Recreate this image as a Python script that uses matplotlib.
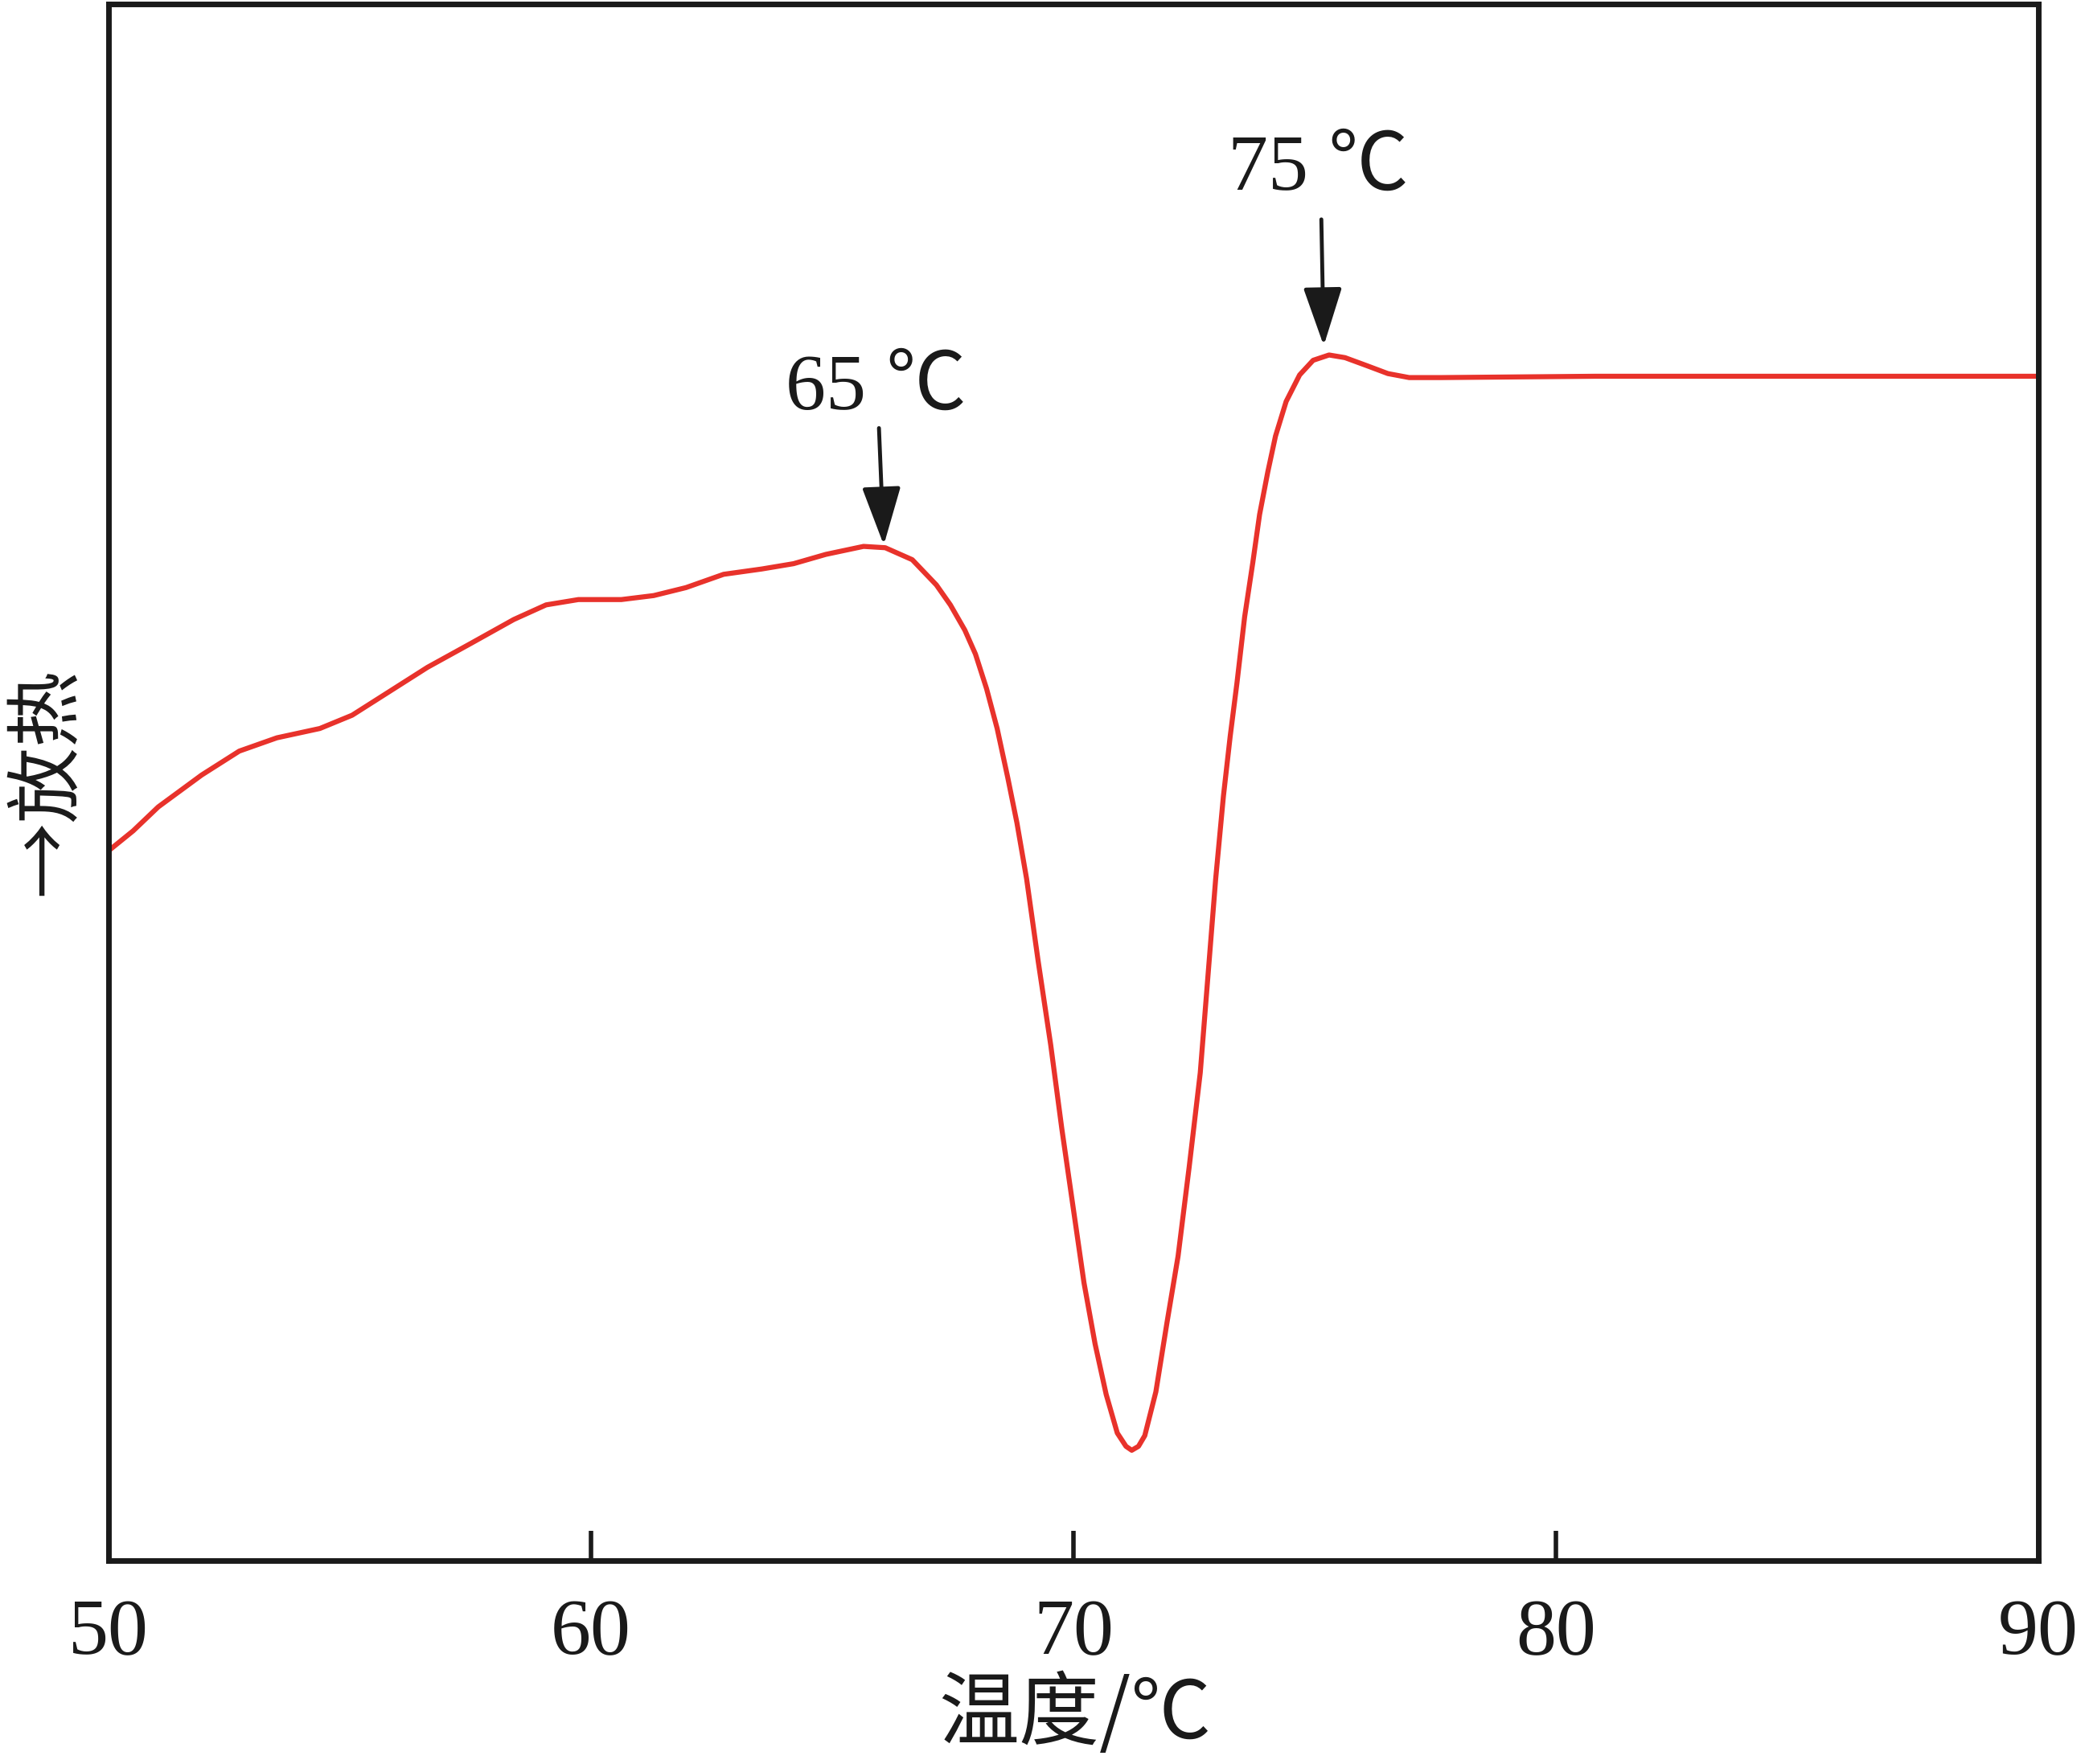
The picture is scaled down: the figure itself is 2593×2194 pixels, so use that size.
import numpy as np
import matplotlib
matplotlib.use("Agg")
import matplotlib.pyplot as plt

# DSC curve (temperature in C, heat flow in arbitrary units)
temp = [50.00, 50.51, 51.03, 51.93, 52.71, 53.49, 54.38, 55.05, 55.83, 56.61,
        57.51, 58.40, 59.07, 59.74, 60.63, 61.30, 61.97, 62.75, 63.54, 64.20,
        64.87, 65.65, 66.10, 66.66, 67.16, 67.45, 67.75, 67.97, 68.20, 68.42,
        68.64, 68.83, 69.03, 69.27, 69.53, 69.76, 69.99, 70.22, 70.45, 70.68,
        70.91, 71.09, 71.21, 71.35, 71.48, 71.71, 71.94, 72.17, 72.40, 72.63,
        72.79, 72.95, 73.11, 73.25, 73.39, 73.55, 73.72, 73.86, 74.03, 74.19,
        74.41, 74.69, 74.97, 75.30, 75.63, 76.08, 76.52, 76.96, 77.62, 80.82,
        90.00]
heat = [5.34, 5.49, 5.67, 5.91, 6.09, 6.19, 6.26, 6.36, 6.54, 6.72,
        6.90, 7.08, 7.19, 7.23, 7.23, 7.26, 7.32, 7.42, 7.46, 7.50,
        7.57, 7.63, 7.62, 7.53, 7.34, 7.19, 7.00, 6.82, 6.56, 6.26,
        5.89, 5.55, 5.13, 4.51, 3.88, 3.25, 2.67, 2.09, 1.63, 1.25,
        0.96, 0.86, 0.83, 0.86, 0.94, 1.27, 1.79, 2.29, 2.96, 3.67,
        4.40, 5.13, 5.75, 6.20, 6.60, 7.10, 7.51, 7.87, 8.19, 8.46,
        8.72, 8.92, 9.03, 9.07, 9.05, 8.99, 8.93, 8.90, 8.90, 8.91,
        8.91]

xticks = [50, 60, 70, 80, 90]
peak_labels = ["65 \u2103", "75 \u2103"]
peak_tip = [(66.07, 7.64), (75.19, 9.14)]
peak_tail = [(65.97, 8.52), (75.14, 10.09)]
peak_text = [(65.91, 8.81), (75.07, 10.46)]

serif = ["Liberation Serif", "Noto Sans CJK SC", "DejaVu Sans"]
cjk = ["Noto Sans CJK SC", "DejaVu Sans"]

fig = plt.figure(figsize=(25.93, 21.94), dpi=100)
ax = fig.add_axes([0.05206, 0.1153, 0.9255, 0.8824])

ax.plot(temp, heat, color="#e8322b", lw=4.5,
        solid_capstyle="round", solid_joinstyle="round")

ax.set_xlim(50, 90)
ax.set_ylim(0, 11.71)
ax.set_xticks(xticks)
ax.set_xticklabels([str(t) for t in xticks], family=serif, fontsize=72)
ax.set_yticks([])
ax.tick_params(axis="x", direction="in", length=27, width=4, pad=34,
               color="#1a1a1a", labelcolor="#1a1a1a")
for sp in ax.spines.values():
    sp.set_linewidth(5)
    sp.set_color("#1a1a1a")

for lab, tip, tail, txt in zip(peak_labels, peak_tip, peak_tail, peak_text):
    ax.annotate("", xy=tip, xytext=tail,
                arrowprops=dict(arrowstyle="-|>,head_length=0.9,head_width=0.3",
                                mutation_scale=50, lw=3.5, color="#1a1a1a",
                                shrinkA=0, shrinkB=0))
    ax.text(txt[0], txt[1], lab, family=serif, fontsize=72, color="#1a1a1a",
            ha="center", va="center")

fig.text(0.0224, 0.557, "\u2192放热", family=cjk, fontsize=68, rotation=90,
         ha="center", va="center", color="#1a1a1a")
fig.text(0.5155, 0.004, "温度/\u2103", family=cjk, fontsize=72,
         ha="center", va="bottom", color="#1a1a1a")

fig.savefig("out.png", dpi=100)
